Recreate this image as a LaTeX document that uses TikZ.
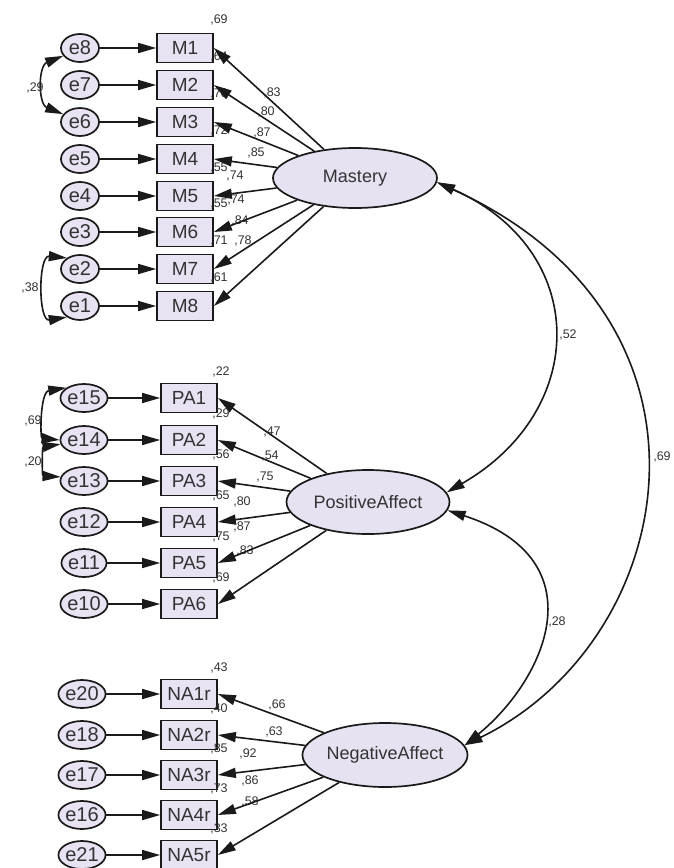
\documentclass[tikz,border=0pt]{standalone}
\usepackage{fontspec}
\setmainfont{Liberation Sans}
\usetikzlibrary{arrows.meta,shapes.geometric}
\definecolor{lav}{HTML}{E8E2F2}
\definecolor{lavl}{HTML}{E7E2F1}
\definecolor{ink}{HTML}{1A1A1A}
\definecolor{txt}{HTML}{333333}
\begin{document}
\begin{tikzpicture}[x=1pt,y=-1pt,
  err/.style={ellipse,draw=ink,fill=lav,line width=1.7pt,minimum width=38pt,minimum height=28pt,inner sep=0pt,font=\fontsize{20}{20}\selectfont,text=txt},
  obs/.style={rectangle,draw=ink,fill=lav,line width=1.7pt,minimum width=56pt,minimum height=29pt,inner sep=0pt,font=\fontsize{19}{19}\selectfont,text=txt},
  lat/.style={ellipse,draw=ink,fill=lavl,line width=1.7pt,minimum width=164pt,minimum height=60pt,inner sep=0pt,font=\fontsize{18}{18}\selectfont,text=txt},
  arr/.style={-{Triangle[length=18pt,width=10pt]},line width=1.6pt,draw=ink},
  darr/.style={{Triangle[length=18pt,width=10pt]}-{Triangle[length=18pt,width=10pt]},line width=1.6pt,draw=ink},
  lbl/.style={font=\fontsize{12.5}{12.5}\selectfont,text=txt,inner sep=0pt},
]
\useasboundingbox (0,0) rectangle (673,868);
\fill[white] (0,0) rectangle (673,868);

% latent variables
\node[lat] (Ma) at (355,178) {Mastery};
\node[lat,minimum width=163pt,minimum height=64pt] (PA) at (368,502) {PositiveAffect};
\node[lat,minimum width=160pt,minimum height=64pt] (NA) at (385,755) {NegativeAffect};

% Mastery indicators
\foreach \i/\e/\y/\r in {1/8/48/69,2/7/85/64,3/6/122/76,4/5/159/72,5/4/196/55,6/3/232/55,7/2/269/71,8/1/306/61}{
  \node[lbl] (rM\i) at (219,\y-28) {,\r};
  \node[obs] (M\i) at (185,\y) {M\i};
  \node[err] (e\e) at (80,\y) {e\e};
  \draw[arr] (e\e) -- (M\i);
}
% PositiveAffect indicators
\foreach \i/\e/\y/\r in {1/15/398/22,2/14/440/29,3/13/481/56,4/12/522/65,5/11/563/75,6/10/604/69}{
  \node[lbl] (rPA\i) at (221,\y-26) {,\r};
  \node[obs] (PA\i) at (189,\y) {PA\i};
  \node[err] (e\e) at (84,\y) {e\e};
  \draw[arr] (e\e) -- (PA\i);
}
% NegativeAffect indicators
\foreach \i/\e/\y/\r in {1/20/694/43,2/18/735/40,3/17/775/85,4/16/815/73,5/21/855/33}{
  \node[lbl] (rNA\i) at (219,\y-26) {,\r};
  \node[obs] (NA\i) at (189,\y) {NA\i r};
  \node[err] (e\e) at (82,\y) {e\e};
  \draw[arr] (e\e) -- (NA\i);
}

% loading labels
\foreach \v/\x/\y in {83/272/93,80/266/112,87/262/133,85/256/153,74/235/176,74/236/200,84/240/221,78/243/241,
                      47/272/432,54/270/456,75/265/477,80/242/502,87/242/527,83/245/551,
                      66/277/705,63/274/732,92/248/754,86/250/781,58/250/802}{
  \node[lbl] at (\x,\y) {,\v};
}

% loadings
\foreach \i in {1,...,8}{\draw[arr] (Ma) -- (M\i.east);}
\foreach \i in {1,...,6}{\draw[arr] (PA) -- (PA\i.east);}
\foreach \i in {1,...,5}{\draw[arr] (NA) -- (NA\i.east);}

% error covariances
\draw[darr] (e8.205) .. controls (38,66) and (38,104) .. (e6.155);
\node[lbl] (c29) at (35,88) {,29};
\draw[darr] (e2.140) .. controls (38,255) and (38,322) .. (e1.220);
\node[lbl] (c38) at (30,288) {,38};
\draw[darr] (e15.150) .. controls (40,392) and (40,438) .. (e14.180);
\node[lbl] (c69) at (33,421) {,69};
\draw[darr] (e14.190) .. controls (42,447) and (42,476) .. (e13.170);
\node[lbl] (c20) at (33,462) {,20};

% factor covariances
\draw[darr] (Ma.-3) .. controls (590,250) and (590,410) .. (PA.7);
\node[lbl] (k52) at (568,335) {,52};
\draw[darr] (Ma.-3) .. controls (740,320) and (680,640) .. (NA.7);
\node[lbl] (k69) at (662,457) {,69};
\draw[darr] (PA.-6) .. controls (600,560) and (545,680) .. (NA.7);
\node[lbl] (k28) at (557,622) {,28};
\end{tikzpicture}
\end{document}
